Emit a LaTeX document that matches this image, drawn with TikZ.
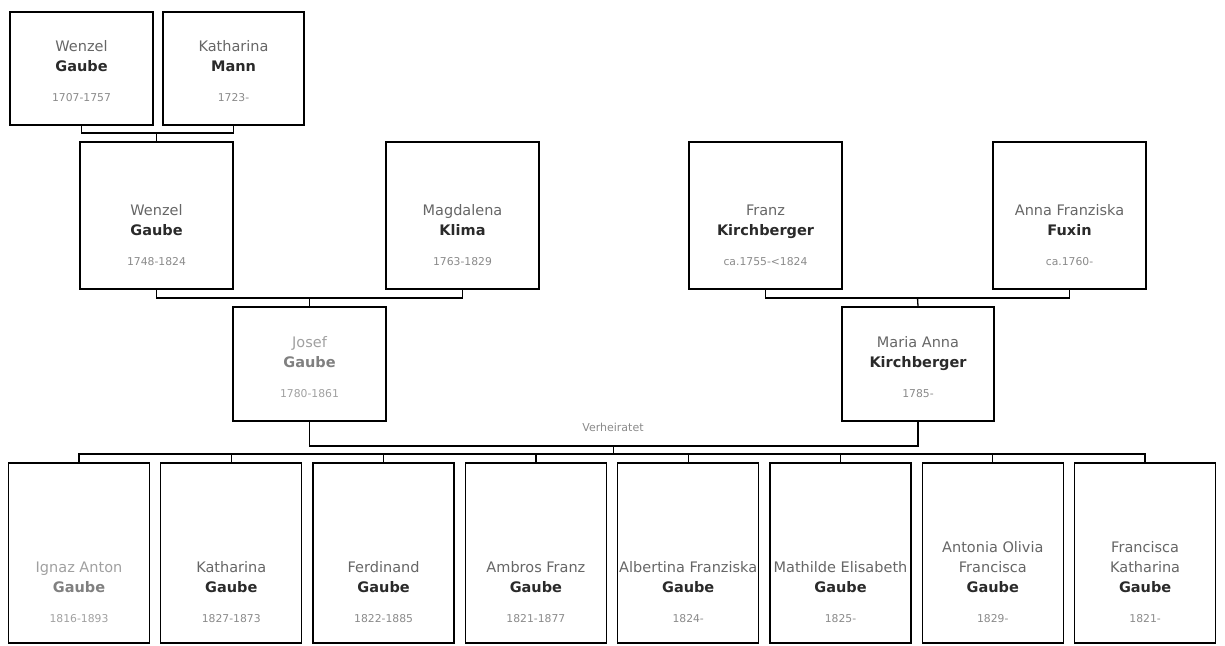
\documentclass[tikz,border=0pt]{standalone}
\usepackage{fontspec}
\setmainfont{DejaVu Sans}
\definecolor{fn}{HTML}{666666}
\definecolor{sn}{HTML}{2A2A2A}
\definecolor{dt}{HTML}{8A8A8A}
\definecolor{fnl}{HTML}{A0A0A0}
\definecolor{snl}{HTML}{808080}
\newcommand\dtfont{\fontsize{10.8}{20}\selectfont}
\newcommand\pers[3]{{\color{fn}#1}\\{\bfseries\color{sn}#2}\\[10pt]{\dtfont\color{dt}#3}}
\newcommand\perstwo[4]{{\color{fn}#1}\\{\color{fn}#2}\\{\bfseries\color{sn}#3}\\[10pt]{\dtfont\color{dt}#4}}
\newcommand\persl[3]{{\color{fnl}#1}\\{\bfseries\color{snl}#2}\\[10pt]{\dtfont\color{fnl}#3}}
\begin{document}
\begin{tikzpicture}[x=1pt,y=-1pt,
  pbox/.style={draw=black, line width=1.3pt, inner sep=0pt},
  gone/.style={pbox, minimum width=143pt, minimum height=113pt},
  gtwo/.style={pbox, minimum width=153pt, minimum height=147pt},
  gthree/.style={pbox, minimum width=153pt, minimum height=114pt},
  kid/.style={pbox, minimum width=141pt, minimum height=180pt},
  ptext/.style={align=center, inner sep=0pt, anchor=south, yshift=24pt, font=\fontsize{14.5}{20}\selectfont},
  ktext/.style={ptext, yshift=-3pt},
  conn/.style={draw=black, line width=1.3pt}]
\useasboundingbox (0,0) rectangle (1225,645);
% generation 1
\node[gone] (w1) at (81.5,68.5) {};
\node[gone, minimum width=141pt] (k1) at (233.5,68.5) {};
\node[ptext] (tw1) at (w1.south) {\pers{Wenzel}{Gaube}{1707-1757}};
\node[ptext] (tk1) at (k1.south) {\pers{Katharina}{Mann}{1723-}};
% generation 2
\node[gtwo] (w2) at (156.5,215.5) {};
\node[gtwo] (m2) at (462.5,215.5) {};
\node[gtwo] (f2) at (765.5,215.5) {};
\node[gtwo] (a2) at (1069.5,215.5) {};
\node[ptext] (tw2) at (w2.south) {\pers{Wenzel}{Gaube}{1748-1824}};
\node[ptext] (tm2) at (m2.south) {\pers{Magdalena}{Klima}{1763-1829}};
\node[ptext] (tf2) at (f2.south) {\pers{Franz}{Kirchberger}{ca.1755-<1824}};
\node[ptext] (ta2) at (a2.south) {\pers{Anna Franziska}{Fuxin}{ca.1760-}};
% generation 3
\node[gthree] (jo) at (309.5,364) {};
\node[gthree, minimum width=152pt] (ma) at (918,364) {};
\node[ptext] (tjo) at (jo.south) {\persl{Josef}{Gaube}{1780-1861}};
\node[ptext] (tma) at (ma.south) {\pers{Maria Anna}{Kirchberger}{1785-}};
% children
\node[kid] (c1) at (79,553) {};
\node[kid] (c2) at (231.3,553) {};
\node[kid] (c3) at (383.6,553) {};
\node[kid] (c4) at (535.9,553) {};
\node[kid] (c5) at (688.2,553) {};
\node[kid] (c6) at (840.5,553) {};
\node[kid] (c7) at (992.8,553) {};
\node[kid] (c8) at (1145.1,553) {};
\node[ktext] (tc1) at (c1.south) {\persl{Ignaz Anton}{Gaube}{1816-1893}};
\node[ktext] (tc2) at (c2.south) {\pers{Katharina}{Gaube}{1827-1873}};
\node[ktext] (tc3) at (c3.south) {\pers{Ferdinand}{Gaube}{1822-1885}};
\node[ktext] (tc4) at (c4.south) {\pers{Ambros Franz}{Gaube}{1821-1877}};
\node[ktext] (tc5) at (c5.south) {\pers{Albertina Franziska}{Gaube}{1824-}};
\node[ktext] (tc6) at (c6.south) {\pers{Mathilde Elisabeth}{Gaube}{1825-}};
\node[ktext] (tc7) at (c7.south) {\perstwo{Antonia Olivia}{Francisca}{Gaube}{1829-}};
\node[ktext] (tc8) at (c8.south) {\perstwo{Francisca}{Katharina}{Gaube}{1821-}};
% junction coordinates
\coordinate (j1) at (156.5,133);
\coordinate (j2) at (309.5,298);
\coordinate (j3) at (917.5,298);
\coordinate (mar) at (613.5,446);
\coordinate (cb) at (613.5,454);
% connectors
\draw[conn] (w1.south) |- (j1) -| (k1.south);
\draw[conn] (j1) -- (w2.north);
\draw[conn] (w2.south) |- (j2) -| (m2.south);
\draw[conn] (j2) -- (jo.north);
\draw[conn] (f2.south) |- (j3) -| (a2.south);
\draw[conn] (j3) -- (ma.north);
\draw[conn] (jo.south) |- (mar) -| (ma.south);
\draw[conn] (mar) -- (cb);
\draw[conn] (c1.north) |- (cb) -| (c8.north);
\foreach \c in {c2,c3,c4,c5,c6,c7}{\draw[conn] (\c.north) -- (\c.north |- cb);}
\node[font=\fontsize{11}{13}\selectfont, text=dt, inner sep=0pt] (ver) at (613,427) {Verheiratet};
\end{tikzpicture}
\end{document}
